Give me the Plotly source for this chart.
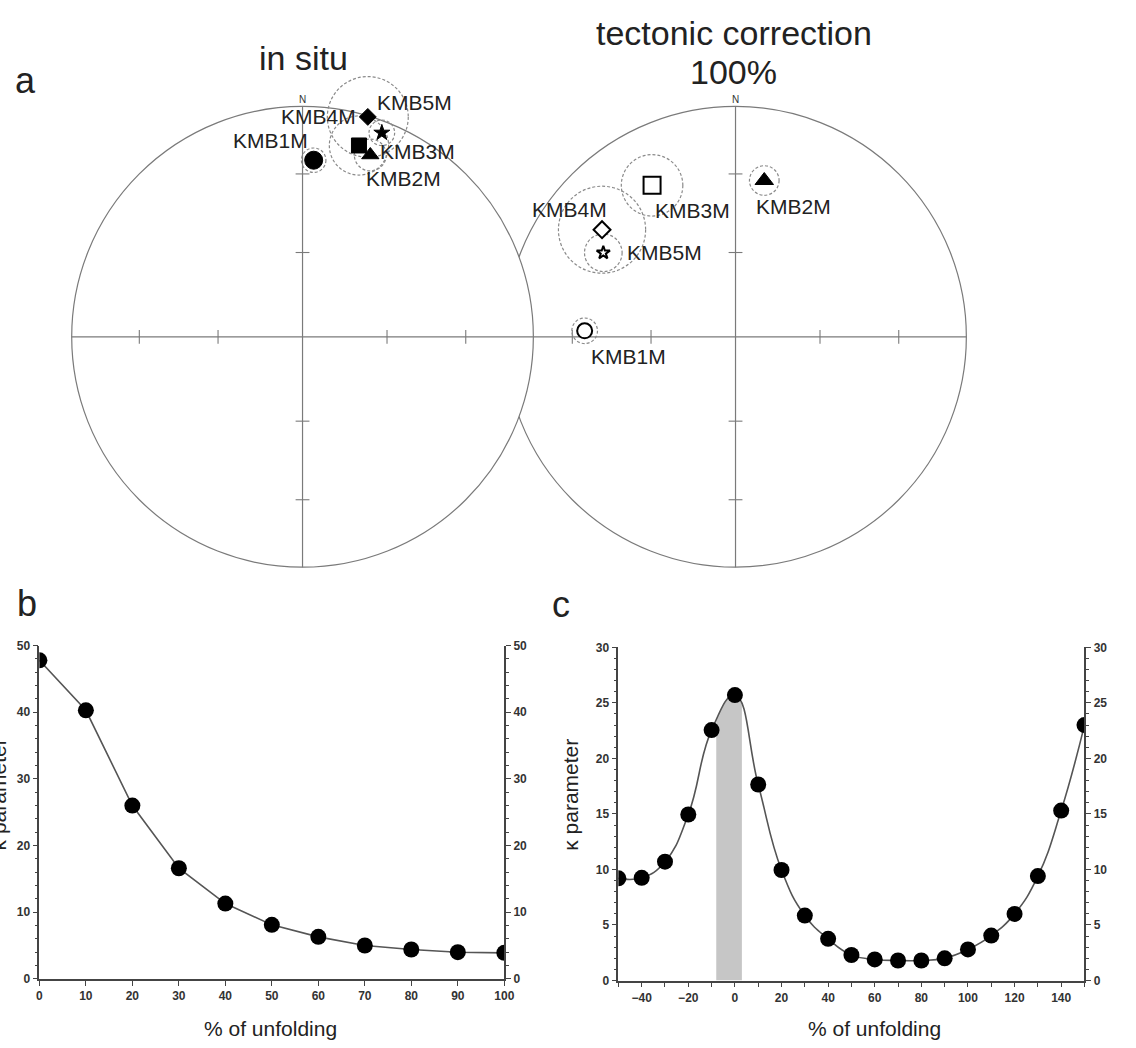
import numpy as np
import plotly.graph_objects as go

# ---------------- data ----------------
sites = ["KMB1M", "KMB2M", "KMB3M", "KMB4M", "KMB5M"]
site_symbols = ["circle", "triangle-up", "square", "diamond", "star"]

# in situ directions (declination, inclination) and a95 (deg)
dec_insitu = [3.6, 20.4, 16.4, 16.5, 21.2]
inc_insitu = [24.2, 16.9, 14.5, 0.5, 5.6]
a95_insitu = [4.3, 5.6, 10.4, 14.2, 4.5]

# 100% tectonic correction
dec_tilt = [272.3, 10.4, 331.2, 308.8, 302.5]
inc_tilt = [-34.9, 31.6, -25.9, -26.7, -32.6]
a95_tilt = [4.5, 5.2, 10.8, 15.3, 6.6]

net_tick_incl = [30, 60]

# panel b
unfold_b = [0, 10, 20, 30, 40, 50, 60, 70, 80, 90, 100]
kappa_b = [47.8, 40.3, 26.0, 16.6, 11.3, 8.1, 6.3, 5.0, 4.4, 4.0, 3.9]

# panel c
unfold_c = [-50, -40, -30, -20, -10, 0, 10, 20, 30, 40, 50, 60, 70, 80, 90,
            100, 110, 120, 130, 140, 150]
kappa_c = [9.2, 9.25, 10.7, 14.95, 22.55, 25.7, 17.65, 9.95, 5.85, 3.75, 2.3,
           1.9, 1.8, 1.8, 2.0, 2.8, 4.05, 6.0, 9.4, 15.3, 23.0]
band_c = [-8, 3]

# ---------------- geometry / style ----------------
W, H = 1136, 1048
FONT = "Liberation Sans, Arial, sans-serif"
NETC = "#7a7a7a"
AXC = "#444444"

R_PX = 233.5
LEFT_CX_PX, CY_PX = 303.0, 334.3
RIGHT_CX_PX = 741.0
TOP_PX = 600.0
x_rng = [-LEFT_CX_PX / R_PX, (W - LEFT_CX_PX) / R_PX]
y_rng = [(CY_PX - TOP_PX) / R_PX, CY_PX / R_PX]
right_cx = (RIGHT_CX_PX - LEFT_CX_PX) / R_PX
deg_to_r = np.pi / 180 / np.sqrt(2)  # mean equal-area scale


def eqarea(dec, inc):
    d = np.radians(np.asarray(dec, float))
    i = np.radians(np.abs(np.asarray(inc, float)))
    r = np.sqrt(2) * np.sin((np.pi / 2 - i) / 2)
    return r * np.sin(d), r * np.cos(d)


def px2paper_x(px):
    return px / W


def px2paper_y(px):
    return 1 - px / H


fig = go.Figure()
shapes = []
annotations = []

# ---- stereonets (right first, then left disc covers right's arc) ----
tick_r = eqarea([0] * len(net_tick_incl), net_tick_incl)[1]
th = 7 / R_PX
for cx in [right_cx, 0.0]:
    shapes.append(dict(type="circle", xref="x", yref="y", x0=cx - 1, x1=cx + 1,
                       y0=-1, y1=1, line=dict(color=NETC, width=1.2),
                       fillcolor="white", layer="below"))
    shapes.append(dict(type="line", xref="x", yref="y", x0=cx - 1, x1=cx + 1, y0=0, y1=0,
                       line=dict(color=NETC, width=1.2), layer="below"))
    shapes.append(dict(type="line", xref="x", yref="y", x0=cx, x1=cx, y0=-1, y1=1,
                       line=dict(color=NETC, width=1.2), layer="below"))
    for r in tick_r:
        for s in (-1, 1):
            shapes.append(dict(type="line", xref="x", yref="y", x0=cx + s * r, x1=cx + s * r,
                               y0=-th, y1=th, line=dict(color=NETC, width=1.1), layer="below"))
            shapes.append(dict(type="line", xref="x", yref="y", x0=cx - th, x1=cx + th,
                               y0=s * r, y1=s * r, line=dict(color=NETC, width=1.1), layer="below"))
    annotations.append(dict(x=cx, y=1.0, xref="x", yref="y", text="N", showarrow=False,
                            yanchor="bottom", yshift=-1,
                            font=dict(family=FONT, size=10, color="#333")))

label_shift_insitu = {"KMB1M": (-43, 20), "KMB2M": (33, -24), "KMB3M": (59, -6),
                      "KMB4M": (-49, 0), "KMB5M": (33, 30)}
label_shift_tilt = {"KMB1M": (44, -26), "KMB2M": (29, -26), "KMB3M": (40, -25),
                    "KMB4M": (-33, 20), "KMB5M": (61, 0)}
size_insitu = {"circle": 18, "triangle-up": 15, "square": 15, "diamond": 13, "star": 12}
size_tilt = {"circle": 15, "triangle-up": 16, "square": 17, "diamond": 13, "star": 10}

for cx, decs, incs, a95s, shifts, sizes in [
        (0.0, dec_insitu, inc_insitu, a95_insitu, label_shift_insitu, size_insitu),
        (right_cx, dec_tilt, inc_tilt, a95_tilt, label_shift_tilt, size_tilt)]:
    xs, ys = eqarea(decs, incs)
    xs = xs + cx
    for x, y, a in zip(xs, ys, a95s):
        rr = a * deg_to_r
        shapes.append(dict(type="circle", xref="x", yref="y", x0=x - rr, x1=x + rr,
                           y0=y - rr, y1=y + rr,
                           line=dict(color="#8a8a8a", width=1.2, dash="3px,2px"),
                           layer="below"))
    fig.add_trace(go.Scatter(
        x=xs, y=ys, mode="markers", xaxis="x", yaxis="y", hoverinfo="skip",
        marker=dict(symbol=site_symbols, opacity=1,
                    size=[sizes[s] for s in site_symbols],
                    color=["#000000" if i > 0 else "white" for i in incs],
                    line=dict(color="#000000", width=[1 if i > 0 else 2 for i in incs]))))
    for name, x, y in zip(sites, xs, ys):
        dx, dy = shifts[name]
        annotations.append(dict(x=x, y=y, xref="x", yref="y", text=name, showarrow=False,
                                xshift=dx, yshift=dy, xanchor="center", yanchor="middle",
                                font=dict(family=FONT, size=21, color="#222")))

# ---- panel b ----
fig.add_trace(go.Scatter(x=unfold_b, y=kappa_b, xaxis="x2", yaxis="y2",
                         mode="lines+markers", hoverinfo="skip",
                         line=dict(color="#555", width=1.6),
                         marker=dict(size=16, color="#000", opacity=1)))
fig.add_trace(go.Scatter(x=unfold_b, y=kappa_b, xaxis="x2", yaxis="y3", mode="markers",
                         marker=dict(opacity=0), hoverinfo="skip"))

# ---- panel c ----
c_ymax = 30
shapes.append(dict(type="rect", xref="x3", yref="y4", x0=band_c[0], x1=band_c[1],
                   y0=0, y1=max(kappa_c) * 1.08, fillcolor="#c6c6c6", line=dict(width=0),
                   layer="below"))
fig.add_trace(go.Scatter(x=[unfold_c[0], unfold_c[-1]], y=[c_ymax, c_ymax], xaxis="x3",
                         yaxis="y4", mode="lines", line=dict(width=0, color="white"),
                         hoverinfo="skip"))
fig.add_trace(go.Scatter(x=unfold_c, y=kappa_c, xaxis="x3", yaxis="y4",
                         mode="lines+markers", hoverinfo="skip",
                         fill="tonexty", fillcolor="white",
                         line=dict(color="#555", width=1.6, shape="spline", smoothing=1.3),
                         marker=dict(size=16, color="#000", opacity=1)))
fig.add_trace(go.Scatter(x=unfold_c, y=kappa_c, xaxis="x3", yaxis="y5", mode="markers",
                         marker=dict(opacity=0), hoverinfo="skip"))

tickfont = dict(family=FONT, size=12, color="#333", weight="bold")
axbase = dict(showline=True, linecolor=AXC, linewidth=1.5, ticks="outside", ticklen=5,
              tickwidth=1.2, tickcolor=AXC, tickfont=tickfont, showgrid=False,
              zeroline=False, fixedrange=True)

b_dom_x = [px2paper_x(36.8), px2paper_x(507.1)]
b_dom_y = [px2paper_y(985.0), px2paper_y(647.3)]
c_dom_x = [px2paper_x(622.5), px2paper_x(1094.0)]
c_dom_y = [px2paper_y(986.7), px2paper_y(649.0)]

fig.update_layout(
    width=W, height=H, margin=dict(l=0, r=0, t=0, b=0),
    paper_bgcolor="white", plot_bgcolor="rgba(0,0,0,0)", showlegend=False,
    xaxis=dict(domain=[0, 1], range=x_rng, visible=False, anchor="y", fixedrange=True),
    yaxis=dict(domain=[px2paper_y(TOP_PX), 1], range=y_rng, visible=False, anchor="x",
               fixedrange=True),
    xaxis2=dict(domain=b_dom_x, range=[0, 100], anchor="y2", dtick=10, tick0=0, **axbase),
    yaxis2=dict(domain=b_dom_y, range=[0, 50], anchor="x2", dtick=10, tick0=0,
                minor=dict(dtick=2, ticklen=3, ticks="outside", tickcolor=AXC, tickwidth=1),
                **axbase),
    yaxis3=dict(domain=b_dom_y, range=[0, 50], anchor="x2", overlaying="y2", side="right",
                dtick=10, tick0=0,
                minor=dict(dtick=2, ticklen=3, ticks="outside", tickcolor=AXC, tickwidth=1),
                **axbase),
    xaxis3=dict(domain=c_dom_x, range=[-50, 150], anchor="y4", dtick=20, tick0=0,
                minor=dict(dtick=10, tick0=0, ticklen=5, ticks="outside", tickcolor=AXC,
                           tickwidth=1.2),
                **axbase),
    yaxis4=dict(domain=c_dom_y, range=[0, c_ymax], anchor="x3", dtick=5, tick0=0,
                minor=dict(dtick=1, ticklen=3, ticks="outside", tickcolor=AXC, tickwidth=1),
                **axbase),
    yaxis5=dict(domain=c_dom_y, range=[0, c_ymax], anchor="x3", overlaying="y4",
                side="right", dtick=5, tick0=0,
                minor=dict(dtick=1, ticklen=3, ticks="outside", tickcolor=AXC, tickwidth=1),
                **axbase),
)


def ptext(text, xpx, ypx, size, angle=0, color="#222"):
    annotations.append(dict(x=px2paper_x(xpx), y=px2paper_y(ypx), xref="paper", yref="paper",
                            text=text, showarrow=False, xanchor="center", yanchor="middle",
                            textangle=angle, font=dict(family=FONT, size=size, color=color)))


ptext("a", 23, 75, 36)
ptext("in situ", 303.6, 52, 34)
ptext("tectonic correction", 739, 26, 34)
ptext("100%", 739, 66, 34)
ptext("b", 24, 605, 36)
ptext("c", 564, 606, 36)
ptext("% of unfolding", 271, 1035, 21)
ptext("% of unfolding", 882, 1035, 21)
ptext("κ parameter", 574, 798, 21, angle=-90)
ptext("κ parameter", -5, 798, 21, angle=-90)

fig.update_layout(shapes=shapes, annotations=annotations)
fig.write_html("out.html")
